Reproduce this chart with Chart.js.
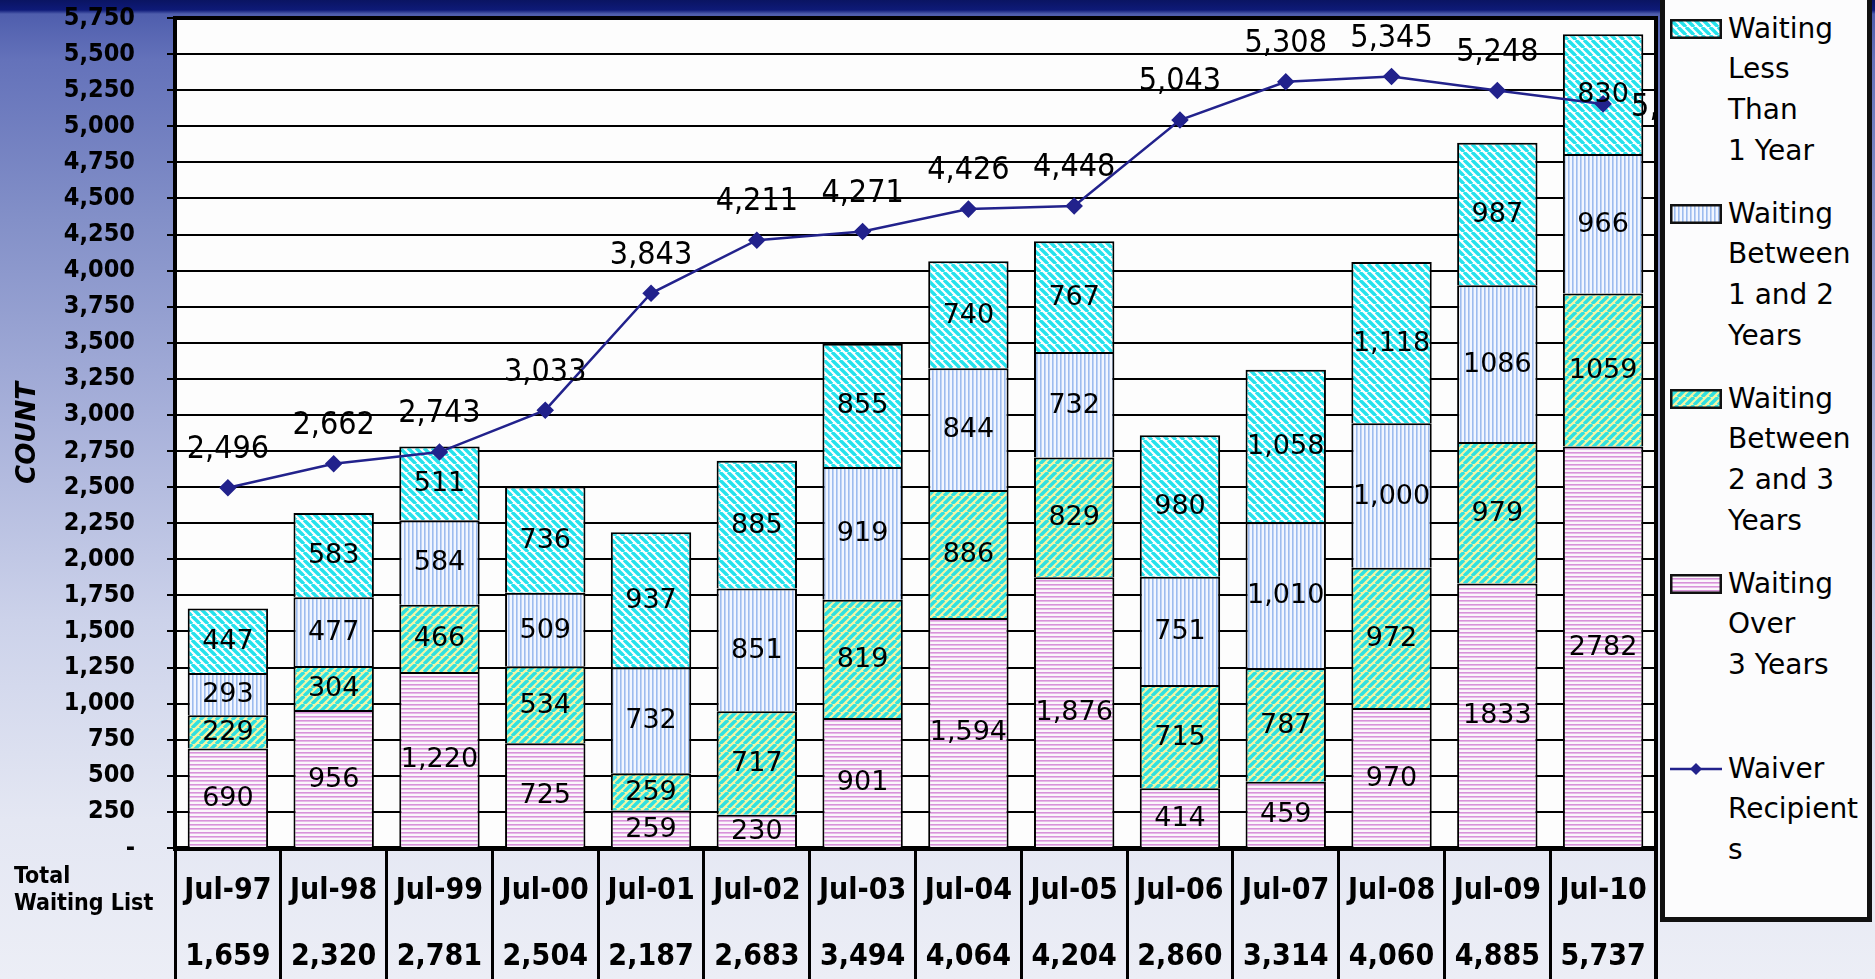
<!DOCTYPE html>
<html>
<head>
<meta charset="utf-8">
<script src="https://cdn.jsdelivr.net/npm/chart.js@4.4.1/dist/chart.umd.min.js"></script>
<style>
html,body{margin:0;padding:0;width:1875px;height:979px;overflow:hidden;}
body{position:relative;font-family:"DejaVu Sans",sans-serif;
background:linear-gradient(to bottom,#0a1462 0px,#0e1a78 10px,#4f5ead 14px,#6472ba 60px,#8390c8 220px,#a8b1da 420px,#ccd2ea 620px,#e4e7f3 820px,#eceef6 979px);}
#c{position:absolute;left:0;top:0;}
#legend{position:absolute;left:1660px;top:-6px;width:202px;height:918px;background:#fcfcfd;border:5px solid #111;}
.item{position:absolute;left:0;width:202px;}
.item canvas{position:absolute;left:5px;}
.item .txt{position:absolute;left:63px;font-family:"DejaVu Sans",sans-serif;font-size:28px;line-height:40.7px;color:#000;white-space:nowrap;}
</style>
</head>
<body>
<canvas id="c" width="1875" height="979"></canvas>
<div id="legend"></div>
<script>
// ---- data ----
const categories = ['Jul-97','Jul-98','Jul-99','Jul-00','Jul-01','Jul-02','Jul-03','Jul-04','Jul-05','Jul-06','Jul-07','Jul-08','Jul-09','Jul-10'];
const totalWaiting = [1659,2320,2781,2504,2187,2683,3494,4064,4204,2860,3314,4060,4885,5737];
const waitingOver3 = [690,956,1220,725,259,230,901,1594,1876,414,459,970,1833,2782];
const waiting2to3 = [229,304,466,534,259,717,819,886,829,715,787,972,979,1059];
const waiting1to2 = [293,477,584,509,732,851,919,844,732,751,1010,1000,1086,966];
const waitingLess1 = [447,583,511,736,937,885,855,740,767,980,1058,1118,987,830];
const waiverRecipients = [2496,2662,2743,3033,3843,4211,4271,4426,4448,5043,5308,5345,5248,5155];
const noSeparatorCats = ['Jul-09','Jul-10'];
const legendLabels = [
  ['Waiting','Less','Than','1 Year'],
  ['Waiting','Between','1 and 2','Years'],
  ['Waiting','Between','2 and 3','Years'],
  ['Waiting','Over','3 Years'],
  ['Waiver','Recipient','s']
];

// ---- patterns ----
function makePatternCanvas(kind){
  const c=document.createElement('canvas');
  let s=8;
  if(kind==='b12'||kind==='o3') s=4;
  c.width=s;c.height=s;
  const g=c.getContext('2d');
  g.fillStyle='#ffffff';g.fillRect(0,0,s,s);
  if(kind==='lt1'){
    g.strokeStyle='#26e2ec';g.lineWidth=3.4;
    for(let k=-1;k<=1;k++){g.beginPath();g.moveTo(k*s,0);g.lineTo(k*s+s,s);g.stroke();}
  } else if(kind==='b23'){
    g.fillStyle='#f5f5a4';g.fillRect(0,0,s,s);
    g.strokeStyle='#30e0e0';g.lineWidth=3.4;
    for(let k=-1;k<=1;k++){g.beginPath();g.moveTo(k*s,s);g.lineTo(k*s+s,0);g.stroke();}
  } else if(kind==='b12'){
    g.fillStyle='#f2f6ff';g.fillRect(0,0,s,s);
    g.fillStyle='#9dbcef';g.fillRect(0,0,1.6,s);
  } else if(kind==='o3'){
    g.fillStyle='#fbf6fb';g.fillRect(0,0,s,s);
    g.fillStyle='#d892da';g.fillRect(0,0,s,1.6);
  }
  return c;
}
const ctx=document.getElementById('c').getContext('2d');
const pat={};
['lt1','b12','b23','o3'].forEach(k=>{pat[k]=ctx.createPattern(makePatternCanvas(k),'repeat');});

const fmtBar=(v,i)=> noSeparatorCats.includes(categories[i]) ? String(v) : v.toLocaleString('en-US');

// ---- plugins ----
const framePlugin={
  id:'frame',
  beforeDraw(chart){
    const a=chart.chartArea,c=chart.ctx;
    c.save();c.fillStyle='#fdfdfd';c.fillRect(a.left,a.top,a.right-a.left,a.bottom-a.top);c.restore();
  },
  afterDraw(chart){
    const a=chart.chartArea,c=chart.ctx;
    c.save();c.strokeStyle='#000';c.lineWidth=4;
    c.beginPath();c.moveTo(a.left,a.top);c.lineTo(a.right,a.top);c.lineTo(a.right,chart.height);c.stroke();
    c.fillStyle='#000';c.font='bold 23px "DejaVu Sans Condensed", "DejaVu Sans", sans-serif';
    c.textAlign='left';c.textBaseline='middle';
    c.fillText('Total',14,877);c.fillText('Waiting List',14,904);
    c.restore();
  }
};
const labelPlugin={
  id:'vlabels',
  afterDatasetsDraw(chart){
    const c=chart.ctx;
    c.save();
    c.fillStyle='#000';
    chart.data.datasets.forEach((ds,di)=>{
      const meta=chart.getDatasetMeta(di);
      if(ds.type==='line'){
        c.font='32px "Liberation Sans Narrow", "DejaVu Sans Condensed", sans-serif';
        c.textBaseline='middle';
        meta.data.forEach((p,i)=>{
          const t=ds.data[i].toLocaleString('en-US');
          if(i===ds.data.length-1){c.textAlign='left';c.fillText(t,p.x+28,p.y+4);}
          else {c.textAlign='center';c.fillText(t,p.x,p.y-38);}
        });
      } else {
        c.font='27px "DejaVu Sans", sans-serif';
        c.textAlign='center';c.textBaseline='middle';
        meta.data.forEach((b,i)=>{
          c.fillText(fmtBar(ds.data[i],i),b.x,(b.y+b.base)/2+1);
        });
      }
    });
    c.restore();
  }
};

const barCommon={borderColor:'#000',borderWidth:2,barPercentage:0.76,categoryPercentage:1.0,order:1};

new Chart(ctx,{
  type:'bar',
  data:{
    labels:categories,
    datasets:[
      {type:'line',label:'Waiver Recipients',data:waiverRecipients,borderColor:'#22228c',borderWidth:2.5,
       pointStyle:'rectRot',pointRadius:7,pointBackgroundColor:'#22228c',pointBorderColor:'#22228c',tension:0,order:0},
      Object.assign({label:'Waiting Over 3 Years',data:waitingOver3,backgroundColor:pat.o3},barCommon),
      Object.assign({label:'Waiting Between 2 and 3 Years',data:waiting2to3,backgroundColor:pat.b23},barCommon),
      Object.assign({label:'Waiting Between 1 and 2 Years',data:waiting1to2,backgroundColor:pat.b12},barCommon),
      Object.assign({label:'Waiting Less Than 1 Year',data:waitingLess1,backgroundColor:pat.lt1},barCommon)
    ]
  },
  options:{
    responsive:false,devicePixelRatio:1,animation:false,
    layout:{padding:{top:18,right:219,left:0,bottom:0}},
    plugins:{legend:{display:false},tooltip:{enabled:false}},
    scales:{
      x:{stacked:true,offset:true,
        grid:{display:true,drawOnChartArea:false,drawTicks:true,tickLength:131,color:'#000',lineWidth:3,offset:true},
        border:{display:true,color:'#000',width:5},
        ticks:{color:'#000',padding:-121,maxRotation:0,autoSkip:false,
          font:{family:'"DejaVu Sans Condensed", "DejaVu Sans", sans-serif',weight:'bold',size:30,lineHeight:'66px'},
          callback:(v,i)=>[categories[i],totalWaiting[i].toLocaleString('en-US')]},
        afterFit(s){s.height=131;s.paddingLeft=0;s.paddingRight=0;}
      },
      y:{stacked:true,min:0,max:5750,
        ticks:{stepSize:250,autoSkip:false,padding:32,color:'#000',
          font:{family:'"DejaVu Sans Condensed", "DejaVu Sans", sans-serif',weight:'bold',size:25},
          callback:v=> v===0?'-':v.toLocaleString('en-US')},
        grid:{color:'#000',lineWidth:2,tickLength:8,drawTicks:true},
        border:{display:true,color:'#000',width:4},
        title:{display:true,text:'COUNT',color:'#000',padding:{top:13,bottom:0},
          font:{family:'"DejaVu Sans", sans-serif',weight:'bold',style:'italic',size:26}},
        afterFit(s){s.width=175;s.paddingTop=0;s.paddingBottom=0;}
      }
    }
  },
  plugins:[framePlugin,labelPlugin]
});

// ---- HTML legend ----
const legend=document.getElementById('legend');
const swatchKinds=['lt1','b12','b23','o3','line'];
legendLabels.forEach((lines,i)=>{
  const item=document.createElement('div');item.className='item';
  item.style.top=(9.6+185*i)+'px';
  const sw=document.createElement('canvas');sw.width=52;sw.height=20;
  sw.style.top=(20.35-10)+'px';
  const g=sw.getContext('2d');
  if(swatchKinds[i]==='line'){
    g.strokeStyle='#22228c';g.lineWidth=2.5;g.beginPath();g.moveTo(0,10);g.lineTo(52,10);g.stroke();
    g.fillStyle='#22228c';g.beginPath();g.moveTo(26,4);g.lineTo(32,10);g.lineTo(26,16);g.lineTo(20,10);g.closePath();g.fill();
  } else {
    g.fillStyle=g.createPattern(makePatternCanvas(swatchKinds[i]),'repeat');
    g.fillRect(1,1,50,18);
    g.strokeStyle='#111';g.lineWidth=2.5;g.strokeRect(1.25,1.25,49.5,17.5);
  }
  item.appendChild(sw);
  const t=document.createElement('div');t.className='txt';t.innerHTML=lines.join('<br>');
  item.appendChild(t);
  legend.appendChild(item);
});
</script>
</body>
</html>
